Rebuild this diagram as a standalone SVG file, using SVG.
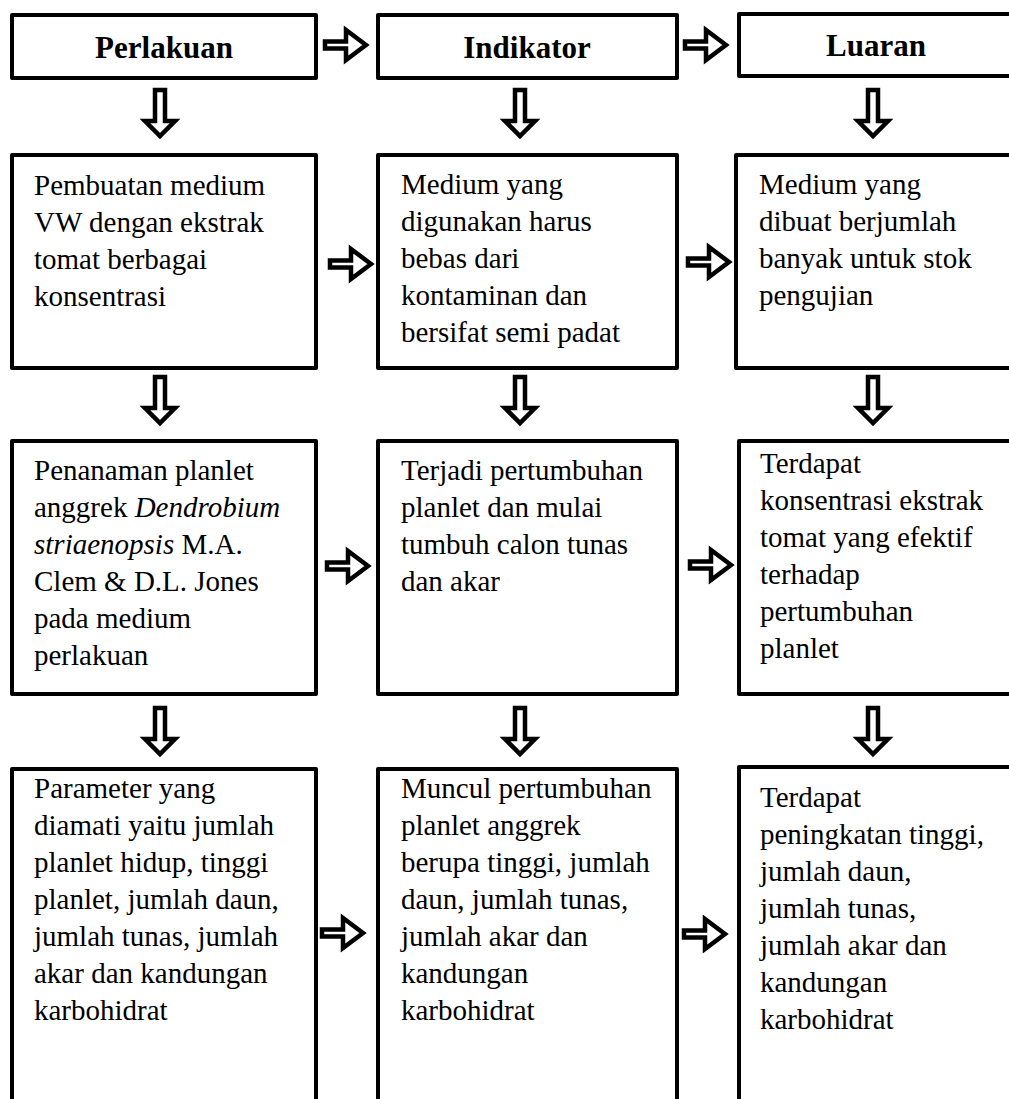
<svg xmlns="http://www.w3.org/2000/svg" xmlns:xlink="http://www.w3.org/1999/xlink" width="1009" height="1099" viewBox="0 0 1009 1099">
<style>
.box{fill:#fff;stroke:#000;stroke-width:4;stroke-linejoin:round}
.arr{fill:#fff;stroke:#000;stroke-width:4.5;stroke-linejoin:miter;stroke-miterlimit:10}
.t{font-family:"Liberation Serif","Times New Roman",serif;font-size:29px;fill:#000}
.h{font-family:"Liberation Serif","Times New Roman",serif;font-size:31px;font-weight:bold;text-anchor:middle;fill:#000}
.i{font-style:italic}
</style>
<defs>
<path id="down" class="arr" d="M -5 0 V 31 H -15 L 0 46 L 15 31 H 5 V 0 Z"/>
<path id="right" class="arr" d="M 0 -3.5 H 21 V -15 L 41 0 L 21 15 V 3.5 H 0 Z"/>
</defs>
<rect width="1009" height="1099" fill="#fff"/>

<g id="h1"><rect class="box" x="12" y="15" width="304" height="63"/><text class="h" x="164" y="58">Perlakuan</text></g>
<g id="h2"><rect class="box" x="378" y="15" width="299" height="63"/><text class="h" x="527" y="58">Indikator</text></g>
<g id="h3"><rect class="box" x="739" y="14" width="310" height="62"/><text class="h" x="876" y="56">Luaran</text></g>

<g id="p1"><rect class="box" x="12" y="155" width="304" height="213"/>
<text class="t" x="34" y="195">Pembuatan medium</text>
<text class="t" x="34" y="232">VW dengan ekstrak</text>
<text class="t" x="34" y="269">tomat berbagai</text>
<text class="t" x="34" y="306">konsentrasi</text></g>
<g id="i1"><rect class="box" x="378" y="155" width="299" height="213"/>
<text class="t" x="401" y="194">Medium yang</text>
<text class="t" x="401" y="231">digunakan harus</text>
<text class="t" x="401" y="268">bebas dari</text>
<text class="t" x="401" y="305">kontaminan dan</text>
<text class="t" x="401" y="342">bersifat semi padat</text></g>
<g id="l1"><rect class="box" x="736" y="155" width="310" height="213"/>
<text class="t" x="759" y="194">Medium yang</text>
<text class="t" x="759" y="231">dibuat berjumlah</text>
<text class="t" x="759" y="268">banyak untuk stok</text>
<text class="t" x="759" y="305">pengujian</text></g>

<g id="p2"><rect class="box" x="12" y="441" width="304" height="253"/>
<text class="t" x="34" y="480">Penanaman planlet</text>
<text class="t" x="34" y="517">anggrek <tspan class="i">Dendrobium</tspan></text>
<text class="t" x="34" y="554"><tspan class="i">striaenopsis</tspan> M.A.</text>
<text class="t" x="34" y="591">Clem &amp; D.L. Jones</text>
<text class="t" x="34" y="628">pada medium</text>
<text class="t" x="34" y="665">perlakuan</text></g>
<g id="i2"><rect class="box" x="378" y="441" width="299" height="253"/>
<text class="t" x="401" y="480">Terjadi pertumbuhan</text>
<text class="t" x="401" y="517">planlet dan mulai</text>
<text class="t" x="401" y="554">tumbuh calon tunas</text>
<text class="t" x="401" y="591">dan akar</text></g>
<g id="l2"><rect class="box" x="739" y="441" width="310" height="253"/>
<text class="t" x="760" y="473">Terdapat</text>
<text class="t" x="760" y="510">konsentrasi ekstrak</text>
<text class="t" x="760" y="547">tomat yang efektif</text>
<text class="t" x="760" y="584">terhadap</text>
<text class="t" x="760" y="621">pertumbuhan</text>
<text class="t" x="760" y="658">planlet</text></g>

<g id="p3"><rect class="box" x="12" y="769" width="304" height="400"/>
<text class="t" x="34" y="798">Parameter yang</text>
<text class="t" x="34" y="835">diamati yaitu jumlah</text>
<text class="t" x="34" y="872">planlet hidup, tinggi</text>
<text class="t" x="34" y="909">planlet, jumlah daun,</text>
<text class="t" x="34" y="946">jumlah tunas, jumlah</text>
<text class="t" x="34" y="983">akar dan kandungan</text>
<text class="t" x="34" y="1020">karbohidrat</text></g>
<g id="i3"><rect class="box" x="378" y="769" width="299" height="400"/>
<text class="t" x="401" y="798">Muncul pertumbuhan</text>
<text class="t" x="401" y="835">planlet anggrek</text>
<text class="t" x="401" y="872">berupa tinggi, jumlah</text>
<text class="t" x="401" y="909">daun, jumlah tunas,</text>
<text class="t" x="401" y="946">jumlah akar dan</text>
<text class="t" x="401" y="983">kandungan</text>
<text class="t" x="401" y="1020">karbohidrat</text></g>
<g id="l3"><rect class="box" x="739" y="767" width="310" height="400"/>
<text class="t" x="760" y="807">Terdapat</text>
<text class="t" x="760" y="844">peningkatan tinggi,</text>
<text class="t" x="760" y="881">jumlah daun,</text>
<text class="t" x="760" y="918">jumlah tunas,</text>
<text class="t" x="760" y="955">jumlah akar dan</text>
<text class="t" x="760" y="992">kandungan</text>
<text class="t" x="760" y="1029">karbohidrat</text></g>

<g id="connectors">
<use xlink:href="#right" x="325" y="45"/>
<use xlink:href="#right" x="685" y="45"/>
<use xlink:href="#down" x="160" y="90"/>
<use xlink:href="#down" x="520" y="90"/>
<use xlink:href="#down" x="873" y="90"/>
<use xlink:href="#right" x="330" y="264"/>
<use xlink:href="#right" x="688" y="262"/>
<use xlink:href="#down" x="160" y="377"/>
<use xlink:href="#down" x="520" y="377"/>
<use xlink:href="#down" x="873" y="377"/>
<use xlink:href="#right" x="327" y="566"/>
<use xlink:href="#right" x="690" y="565"/>
<use xlink:href="#down" x="160" y="708"/>
<use xlink:href="#down" x="520" y="708"/>
<use xlink:href="#down" x="873" y="708"/>
<use xlink:href="#right" x="322" y="933"/>
<use xlink:href="#right" x="684" y="934"/>
</g>
</svg>
